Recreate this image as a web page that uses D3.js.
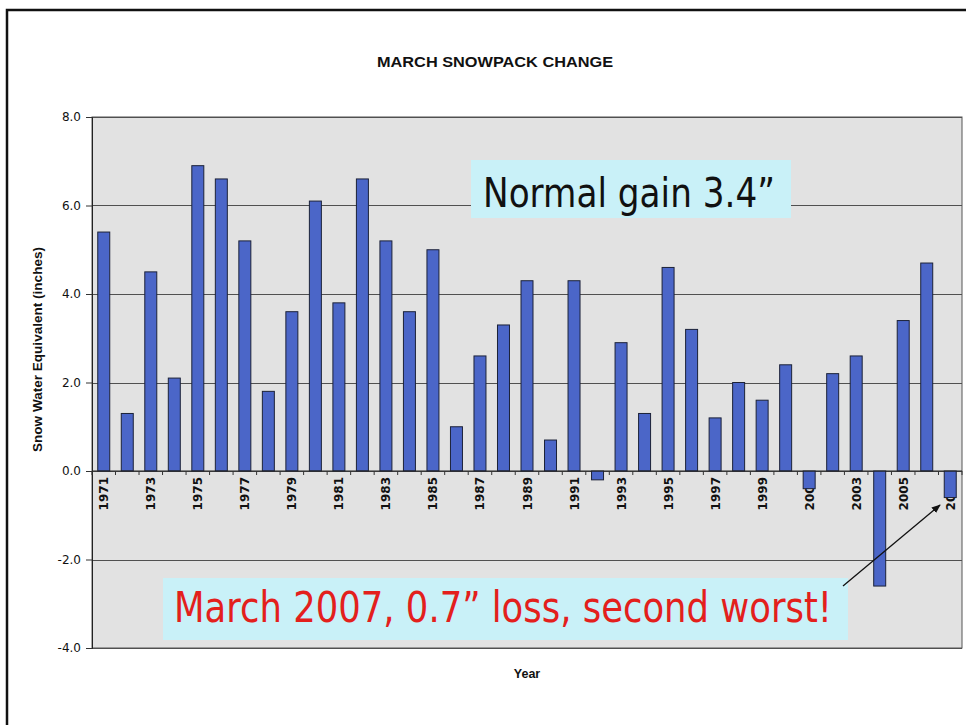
<!DOCTYPE html>
<html>
<head>
<meta charset="utf-8">
<script src="https://cdn.jsdelivr.net/npm/d3@7"></script>
<style>
  html, body { margin: 0; padding: 0; background: #ffffff; }
  svg { display: block; }
</style>
</head>
<body>
<svg id="chart" width="966" height="725"></svg>
<script>
// ---- data ----
const years = [1971,1972,1973,1974,1975,1976,1977,1978,1979,1980,
               1981,1982,1983,1984,1985,1986,1987,1988,1989,1990,
               1991,1992,1993,1994,1995,1996,1997,1998,1999,2000,
               2001,2002,2003,2004,2005,2006,2007];
const changes = [5.4,1.3,4.5,2.1,6.9,6.6,5.2,1.8,3.6,6.1,
                 3.8,6.6,5.2,3.6,5.0,1.0,2.6,3.3,4.3,0.7,
                 4.3,-0.2,2.9,1.3,4.6,3.2,1.2,2.0,1.6,2.4,
                 -0.4,2.2,2.6,-2.6,3.4,4.7,-0.6];
const xTickLabels = [1971,1973,1975,1977,1979,1981,1983,1985,1987,1989,
                     1991,1993,1995,1997,1999,2001,2003,2005,2007];
const yTicks = [-4,-2,0,2,4,6,8];
const titleText = "MARCH SNOWPACK CHANGE";
const yTitle = "Snow Water Equivalent (inches)";
const xTitle = "Year";
const note1 = "Normal gain 3.4\u201D";
const note2 = "March 2007, 0.7\u201D loss, second worst!";

// ---- layout ----
const svg = d3.select("#chart");
const plot = {left: 92, right: 962, top: 117, bottom: 648};
const sans = "Liberation Sans, Arial, sans-serif";
const wide = "DejaVu Sans, Verdana, sans-serif";

const x = d3.scaleBand().domain(years)
  .range([plot.left, plot.right])
  .paddingInner(0.49).paddingOuter(0.245);
const y = d3.scaleLinear().domain([-4, 8]).range([plot.bottom, plot.top]);

// outer frame
svg.append("path")
  .attr("d", "M7,727 L7,10 L968,10")
  .attr("fill", "none").attr("stroke", "#111").attr("stroke-width", 2.5);

// plot background
svg.append("rect")
  .attr("x", plot.left).attr("y", plot.top)
  .attr("width", plot.right - plot.left).attr("height", plot.bottom - plot.top)
  .attr("fill", "#e2e2e2").attr("stroke", "#555").attr("stroke-width", 1);

// gridlines
svg.append("g").selectAll("line").data(yTicks).join("line")
  .attr("x1", plot.left).attr("x2", plot.right)
  .attr("y1", d => Math.round(y(d)) + 0.5).attr("y2", d => Math.round(y(d)) + 0.5)
  .attr("stroke", "#505050").attr("stroke-width", 1);

// y axis
const yAxis = d3.axisLeft(y).tickValues(yTicks).tickFormat(d => d.toFixed(1))
  .tickSize(6).tickPadding(5);
const gy = svg.append("g").attr("transform", `translate(${plot.left},0)`).call(yAxis);
gy.select(".domain").attr("stroke", "#222");
gy.selectAll(".tick line").attr("stroke", "#333");
gy.selectAll("text").attr("font-family", wide)
  .attr("font-size", 12).attr("fill", "#111");

// x tick labels (rotated), drawn before bars
const xl = svg.append("g");
xl.selectAll("text").data(xTickLabels).join("text")
  .attr("transform", d => `translate(${x(d) + x.bandwidth() / 2 + 4.5},${y(0) + 6}) rotate(-90)`)
  .attr("text-anchor", "end")
  .attr("font-family", wide)
  .attr("font-weight", "bold")
  .attr("font-size", 12).attr("fill", "#111")
  .text(d => d);

// bars
svg.append("g").selectAll("rect").data(years).join("rect")
  .attr("x", (d) => x(d))
  .attr("width", x.bandwidth())
  .attr("y", (d, i) => y(Math.max(0, changes[i])))
  .attr("height", (d, i) => Math.abs(y(changes[i]) - y(0)))
  .attr("fill", "#4b66c8").attr("stroke", "#1c2238").attr("stroke-width", 1);

// x axis line and category boundary ticks
const step = x.step();
const boundaries = d3.range(years.length + 1).map(i => plot.left + i * step);
svg.append("line")
  .attr("x1", plot.left).attr("x2", plot.right)
  .attr("y1", y(0)).attr("y2", y(0))
  .attr("stroke", "#222").attr("stroke-width", 1.2);
svg.append("g").selectAll("line").data(boundaries).join("line")
  .attr("x1", d => d).attr("x2", d => d)
  .attr("y1", y(0)).attr("y2", y(0) + 4)
  .attr("stroke", "#333").attr("stroke-width", 1);

// title
svg.append("text")
  .attr("x", 495).attr("y", 67)
  .attr("text-anchor", "middle")
  .attr("font-family", sans)
  .attr("font-weight", "bold").attr("font-size", 14)
  .attr("textLength", 236).attr("lengthAdjust", "spacingAndGlyphs")
  .attr("fill", "#111")
  .text(titleText);

// axis titles
svg.append("text")
  .attr("transform", `translate(42,${(plot.top + plot.bottom) / 2 - 33}) rotate(-90)`)
  .attr("text-anchor", "middle")
  .attr("font-family", sans)
  .attr("font-weight", "bold").attr("font-size", 12.5).attr("fill", "#111")
  .attr("textLength", 205).attr("lengthAdjust", "spacingAndGlyphs")
  .text(yTitle);
svg.append("text")
  .attr("x", 527).attr("y", 678)
  .attr("text-anchor", "middle")
  .attr("font-family", sans)
  .attr("font-weight", "bold").attr("font-size", 12.5).attr("fill", "#111")
  .text(xTitle);

// annotation 1
svg.append("rect")
  .attr("x", 471).attr("y", 160).attr("width", 320).attr("height", 58)
  .attr("fill", "#c9f1f8");
svg.append("text")
  .attr("x", 483).attr("y", 207)
  .attr("font-family", wide)
  .attr("font-size", 40).attr("fill", "#111")
  .attr("textLength", 292).attr("lengthAdjust", "spacingAndGlyphs")
  .text(note1);

// annotation 2
svg.append("rect")
  .attr("x", 163).attr("y", 578).attr("width", 685).attr("height", 62)
  .attr("fill", "#c9f1f8");
svg.append("text")
  .attr("x", 174).attr("y", 622)
  .attr("font-family", wide)
  .attr("font-size", 42).attr("fill", "#e3201c")
  .attr("textLength", 658).attr("lengthAdjust", "spacingAndGlyphs")
  .text(note2);

// arrow
const defs = svg.append("defs");
defs.append("marker")
  .attr("id", "arrowhead").attr("viewBox", "0 0 10 10")
  .attr("refX", 9).attr("refY", 5)
  .attr("markerWidth", 7).attr("markerHeight", 7)
  .attr("orient", "auto")
  .append("path").attr("d", "M0,1 L10,5 L0,9 Z").attr("fill", "#111");
svg.append("line")
  .attr("x1", 843).attr("y1", 586).attr("x2", 940).attr("y2", 505)
  .attr("stroke", "#111").attr("stroke-width", 1.3)
  .attr("marker-end", "url(#arrowhead)");
</script>
</body>
</html>
